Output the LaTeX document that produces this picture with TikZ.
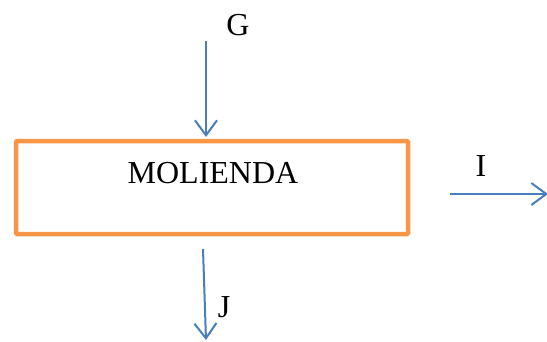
\documentclass[tikz,border=0pt]{standalone}
\usepackage{fontspec}
\setmainfont{Liberation Serif}
\usetikzlibrary{arrows.meta}
\definecolor{boxorange}{RGB}{247,150,70}
\definecolor{flowblue}{RGB}{74,126,187}
\tikzset{flow/.style={draw=flowblue, line width=2pt, -{Straight Barb[length=15pt,width=22pt,line width=2pt]}},
         lbl/.style={font=\fontsize{32}{38}\selectfont, inner sep=0pt}}
\begin{document}
\begin{tikzpicture}[x=1pt,y=-1pt]
				      \useasboundingbox (0,0) rectangle (547,341);
				      \node (r)[draw=boxorange, line width=4.5pt, rounded corners=1pt, minimum width=392pt, minimum height=93pt] at (212,187.5) {};
				      \node (m)[lbl] at (213,173) {MOLIENDA};
				      \node (g)[lbl] at (238,25) {G};
				      \node (i)[lbl] at (481,166) {I};
				      \node (j)[lbl] at (224,307) {J};
				      \coordinate (g0) at (206,41);
				      \coordinate (g1) at (206,137);
				      \coordinate (i0) at (450,194);
				      \coordinate (i1) at (548,194);
				      \coordinate (j0) at (203,249);
				      \coordinate (j1) at (206,340);
				      \draw[flow] (g0)--(g1);
				      \draw[flow] (i0)--(i1);
				      \draw[flow] (j0)--(j1);
			      \end{tikzpicture}
\end{document}
